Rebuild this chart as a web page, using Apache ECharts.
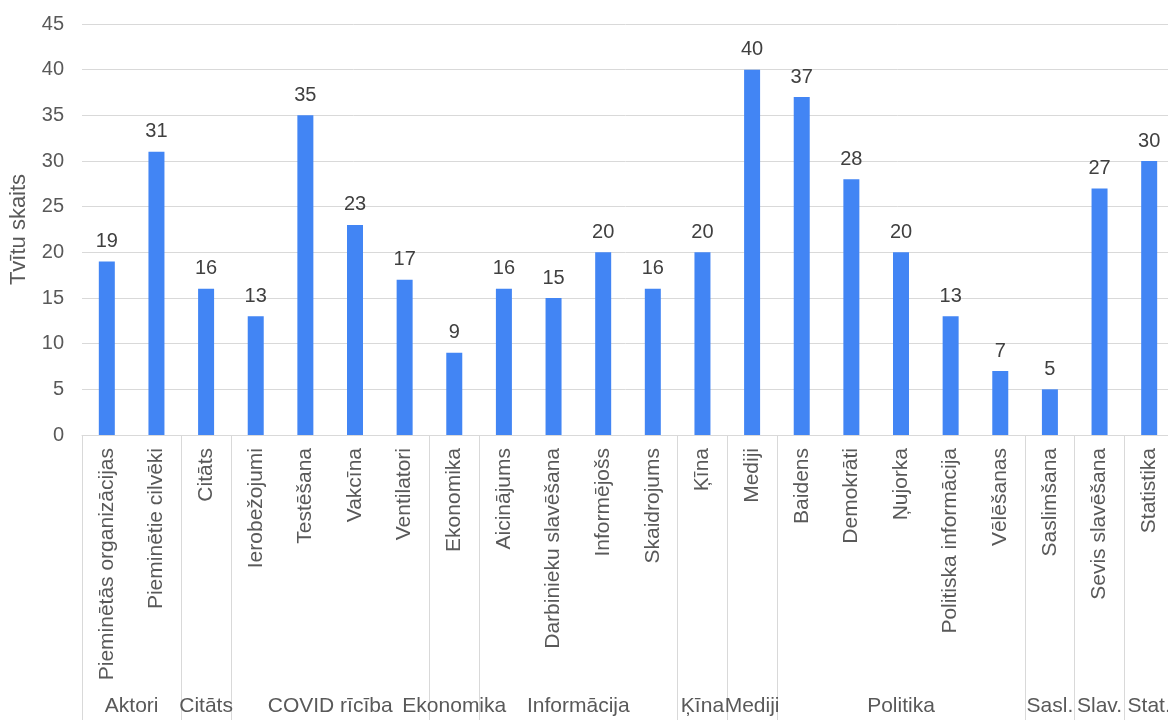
<!DOCTYPE html>
<html>
<head>
<meta charset="utf-8">
<script src="https://cdn.jsdelivr.net/npm/echarts@6/dist/echarts.min.js"></script>
<style>
  html, body { margin: 0; padding: 0; background: #fff; }
  #chart { width: 1168px; height: 720px; }
</style>
</head>
<body>
<div id="chart"></div>
<script>
// data
const categories = [
  "Pieminētās organizācijas", "Pieminētie cilvēki", "Citāts", "Ierobežojumi",
  "Testēšana", "Vakcīna", "Ventilatori", "Ekonomika", "Aicinājums",
  "Darbinieku slavēšana", "Informējošs", "Skaidrojums", "Ķīna", "Mediji",
  "Baidens", "Demokrāti", "Ņujorka", "Politiska informācija", "Vēlēšanas",
  "Saslimšana", "Sevis slavēšana", "Statistika"
];
const tweetCounts = [19, 31, 16, 13, 35, 23, 17, 9, 16, 15, 20, 16, 20, 40, 37, 28, 20, 13, 7, 5, 27, 30];
const groupNames = ["Aktori", "Citāts", "COVID rīcība", "Ekonomika", "Informācija", "Ķīna", "Mediji", "Politika", "Sasl.", "Slav.", "Stat."];
const groupSizes = [2, 1, 4, 1, 4, 1, 1, 5, 1, 1, 1];

const textColor = "#595959";
const lineColor = "#d9d9d9";

// group axis uses half-category slots, so a label can sit at a group's centre
// and a tick at each group boundary
const slotNames = new Array(categories.length * 2 + 1).fill("");
const boundarySlots = [0];
let start = 0;
groupSizes.forEach((n, i) => {
  slotNames[2 * start + n] = groupNames[i];
  start += n;
  boundarySlots.push(2 * start);
});

const chart = echarts.init(document.getElementById("chart"));
chart.setOption({
  animation: false,
  textStyle: { fontFamily: "Liberation Sans, Arial, sans-serif" },
  grid: { left: 82, top: 24, width: 1092, bottom: 285, outerBoundsMode: "none" },
  xAxis: [
    {
      type: "category",
      data: categories,
      position: "bottom",
      axisLine: { lineStyle: { color: lineColor, width: 1 } },
      axisTick: { show: false },
      axisLabel: {
        rotate: 90,
        interval: 0,
        margin: 13,
        fontSize: 21,
        color: textColor,
      },
    },
    {
      type: "category",
      data: slotNames,
      boundaryGap: false,
      position: "bottom",
      axisLine: { show: false },
      axisTick: {
        show: true,
        length: 285,
        interval: (idx) => boundarySlots.indexOf(idx) >= 0,
        lineStyle: { color: lineColor, width: 1 },
      },
      axisLabel: {
        interval: (idx) => slotNames[idx] !== "",
        margin: 261,
        fontSize: 21,
        color: textColor,
      },
    },
  ],
  yAxis: {
    type: "value",
    min: 0,
    max: 45,
    interval: 5,
    name: "Tvītu skaits",
    nameLocation: "middle",
    nameGap: 52,
    nameTextStyle: { fontSize: 22, color: textColor },
    axisLine: { show: false },
    axisTick: { show: false },
    axisLabel: { fontSize: 20, color: textColor, margin: 18 },
    splitLine: { lineStyle: { color: lineColor } },
  },
  series: [
    {
      type: "bar",
      xAxisIndex: 0,
      data: tweetCounts,
      barWidth: 16,
      itemStyle: { color: "#4285f4" },
      label: {
        show: true,
        position: "top",
        distance: 10,
        fontSize: 20,
        color: "#404040",
      },
    },
  ],
});
</script>
</body>
</html>
